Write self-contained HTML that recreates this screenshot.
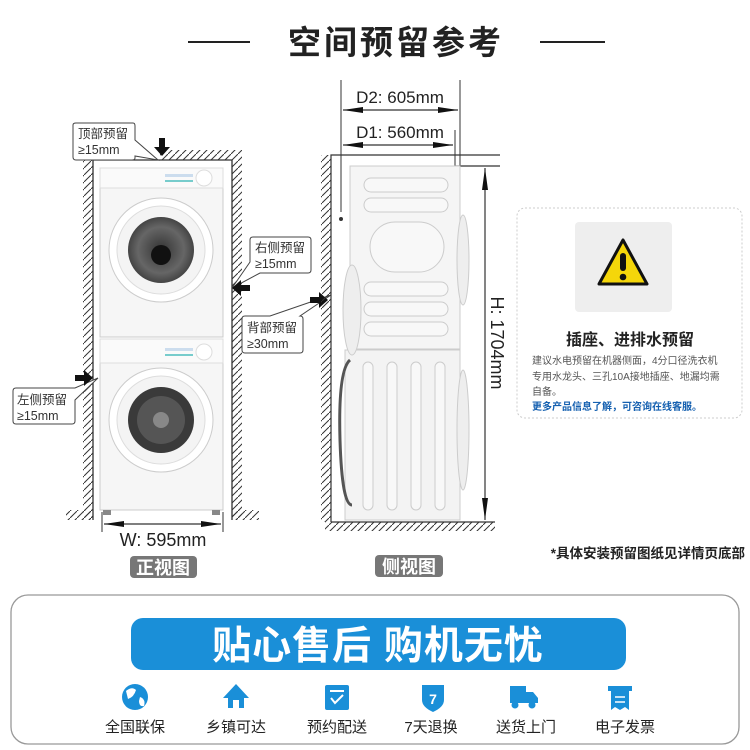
<!DOCTYPE html>
<html><head><meta charset="utf-8"><style>
html,body{margin:0;padding:0;background:#fff;}
svg{display:block;font-family:"Liberation Sans","Noto Sans CJK SC",sans-serif;}
</style></head><body>
<svg width="750" height="750" viewBox="0 0 750 750" xmlns="http://www.w3.org/2000/svg">
<defs>
<pattern id="h" width="7" height="7" patternUnits="userSpaceOnUse">
<path d="M-1,8 L8,-1" stroke="#333" stroke-width="1"/>
</pattern>
<radialGradient id="dr" cx="50%" cy="50%" r="50%"><stop offset="0" stop-color="#333"/><stop offset="0.7" stop-color="#666"/><stop offset="1" stop-color="#444"/></radialGradient>
</defs>

<!-- title -->
<line x1="188" y1="42" x2="250" y2="42" stroke="#222" stroke-width="2"/>
<line x1="540" y1="42" x2="605" y2="42" stroke="#222" stroke-width="2"/>
<text x="396" y="54" text-anchor="middle" font-size="33" font-weight="bold" fill="#222" letter-spacing="3">空间预留参考</text>

<!-- FRONT VIEW walls -->
<rect x="83" y="160" width="10" height="360" fill="url(#h)"/>
<rect x="232" y="160" width="10" height="360" fill="url(#h)"/>
<rect x="160" y="150" width="82" height="10" fill="url(#h)"/>
<rect x="66" y="510" width="27" height="10" fill="url(#h)"/>
<rect x="232" y="510" width="27" height="10" fill="url(#h)"/>
<path d="M93,160 L93,520 M93,160 L232,160 L232,520" stroke="#333" stroke-width="1.3" fill="none"/>

<!-- machines front -->
<rect x="100" y="168" width="123" height="169" fill="#f6f6f6" stroke="#ccc"/>
<rect x="100" y="168" width="123" height="20" fill="#fafafa" stroke="#ddd"/>
<circle cx="204" cy="178" r="8" fill="#fff" stroke="#ddd"/>
<rect x="165" y="174" width="28" height="3" fill="#cde"/>
<rect x="165" y="180" width="28" height="2" fill="#7cc"/>
<circle cx="161" cy="250" r="52" fill="#fff" stroke="#ccc"/>
<circle cx="161" cy="250" r="44" fill="#f4f4f4" stroke="#ddd"/>
<circle cx="161" cy="250" r="33" fill="url(#dr)"/>
<circle cx="161" cy="255" r="10" fill="#111"/>
<rect x="100" y="339" width="123" height="171" fill="#f6f6f6" stroke="#ccc"/>
<rect x="100" y="339" width="123" height="24" fill="#fafafa" stroke="#ddd"/>
<circle cx="204" cy="352" r="8" fill="#fff" stroke="#ddd"/>
<rect x="165" y="348" width="28" height="3" fill="#cde"/>
<rect x="165" y="354" width="28" height="2" fill="#7cc"/>
<circle cx="161" cy="420" r="52" fill="#fff" stroke="#ccc"/>
<circle cx="161" cy="420" r="44" fill="#f4f4f4" stroke="#ddd"/>
<circle cx="161" cy="420" r="33" fill="#3a3a3a"/>
<circle cx="161" cy="420" r="24" fill="#555"/>
<circle cx="161" cy="420" r="8" fill="#888"/>
<rect x="103" y="510" width="8" height="5" fill="#888"/>
<rect x="212" y="510" width="8" height="5" fill="#888"/>

<!-- W dimension -->
<path d="M102,512 L102,532 M223,512 L223,532" stroke="#333"/>
<line x1="104" y1="524" x2="221" y2="524" stroke="#333" stroke-width="1.2"/>
<path d="M104,524 L124,521 L124,527z M221,524 L201,521 L201,527z" fill="#111"/>
<text x="163" y="546" text-anchor="middle" font-size="18" fill="#222">W: 595mm</text>
<rect x="130" y="556" width="67" height="22" rx="4" fill="#777"/>
<text x="163" y="574" text-anchor="middle" font-size="18" font-weight="bold" fill="#fff">正视图</text>

<!-- callouts front -->
<g font-size="12.5" fill="#333">
<path d="M73,125 Q73,123 76,123 L133,123 Q135,123 135,126 L135,140 L158,160 L135,156 L135,158 Q135,160 132,160 L76,160 Q73,160 73,157z" fill="#fff" stroke="#444"/>
<text x="78" y="138">顶部预留</text><text x="78" y="154">≥15mm</text>
<path d="M250,240 Q250,237 253,237 L308,237 Q311,237 311,240 L311,270 Q311,273 308,273 L260,273 L232,288 L250,262z" fill="#fff" stroke="#444"/>
<text x="255" y="252">右侧预留</text><text x="255" y="268">≥15mm</text>
<path d="M242,319 Q242,316 245,316 L270,316 L331,295 L300,316 L300,316 Q303,316 303,319 L303,350 Q303,353 300,353 L245,353 Q242,353 242,350z" fill="#fff" stroke="#444"/>
<text x="247" y="332">背部预留</text><text x="247" y="348">≥30mm</text>
<path d="M13,391 Q13,388 16,388 L75,388 L98,378 L75,400 L75,421 Q75,424 72,424 L16,424 Q13,424 13,421z" fill="#fff" stroke="#444"/>
<text x="17" y="404">左侧预留</text><text x="17" y="420">≥15mm</text>
</g>
<!-- arrows -->
<g fill="#111">
<path d="M159,138 L165,138 L165,147 L170,147 L162,156 L154,147 L159,147z"/>
<path d="M250,285 L241,285 L241,280 L232,288 L241,296 L241,291 L250,291z"/>
<path d="M75,375 L84,375 L84,370 L93,378 L84,386 L84,381 L75,381z"/>
<path d="M310,297 L319,297 L319,292 L328,300 L319,308 L319,303 L310,303z"/>
</g>

<!-- SIDE VIEW -->
<rect x="321" y="155" width="10" height="367" fill="url(#h)"/>
<rect x="325" y="522" width="170" height="9" fill="url(#h)"/>
<path d="M331,522 L331,155 L500,155 M455,166 L500,166 M331,522 L495,522" stroke="#333" stroke-width="1.2" fill="none"/>
<path d="M341,80 L341,212 M460,80 L460,170 M455,130 L455,166" stroke="#333" stroke-width="1"/>
<circle cx="341" cy="219" r="2" fill="#333"/>
<line x1="343" y1="110" x2="458" y2="110" stroke="#333" stroke-width="1.2"/>
<path d="M343,110 L363,107 L363,113z M458,110 L438,107 L438,113z" fill="#111"/>
<line x1="343" y1="145" x2="453" y2="145" stroke="#333" stroke-width="1.2"/>
<path d="M343,145 L363,142 L363,148z M453,145 L433,142 L433,148z" fill="#111"/>
<text x="400" y="103" text-anchor="middle" font-size="17" fill="#222">D2: 605mm</text>
<text x="400" y="138" text-anchor="middle" font-size="17" fill="#222">D1: 560mm</text>
<line x1="485" y1="168" x2="485" y2="520" stroke="#333" stroke-width="1.2"/>
<path d="M485,168 L482,190 L488,190z M485,520 L482,498 L488,498z" fill="#111"/>
<text transform="translate(491,343) rotate(90)" text-anchor="middle" font-size="18" fill="#222">H: 1704mm</text>

<!-- side machine -->
<rect x="350" y="166" width="110" height="183" fill="#f5f5f5" stroke="#ccc"/>
<rect x="345" y="350" width="115" height="170" fill="#f3f3f3" stroke="#ccc"/>
<ellipse cx="352" cy="310" rx="9" ry="45" fill="#eee" stroke="#ccc"/>
<ellipse cx="463" cy="260" rx="6" ry="45" fill="#eee" stroke="#ccc"/>
<ellipse cx="463" cy="430" rx="6" ry="60" fill="#eee" stroke="#ccc"/>
<g fill="#f8f8f8" stroke="#ccc">
<rect x="364" y="178" width="84" height="14" rx="7"/>
<rect x="364" y="198" width="84" height="14" rx="7"/>
<rect x="370" y="222" width="74" height="50" rx="25"/>
<rect x="364" y="282" width="84" height="14" rx="7"/>
<rect x="364" y="302" width="84" height="14" rx="7"/>
<rect x="364" y="322" width="84" height="14" rx="7"/>
<rect x="363" y="362" width="10" height="148" rx="5"/>
<rect x="387" y="362" width="10" height="148" rx="5"/>
<rect x="411" y="362" width="10" height="148" rx="5"/>
<rect x="435" y="362" width="10" height="148" rx="5"/>
</g>
<path d="M350,360 Q338,370 340,440 Q342,505 352,505" stroke="#555" stroke-width="3" fill="none"/>

<rect x="375" y="555" width="68" height="22" rx="4" fill="#777"/>
<text x="409" y="573" text-anchor="middle" font-size="18" font-weight="bold" fill="#fff">侧视图</text>
<text x="745" y="558" text-anchor="end" font-size="13.5" font-weight="bold" fill="#222">*具体安装预留图纸见详情页底部</text>

<!-- right card -->
<rect x="517" y="208" width="225" height="210" rx="8" fill="#fff" stroke="#ccc" stroke-dasharray="2,2"/>
<rect x="575" y="222" width="97" height="90" rx="4" fill="#eee"/>
<path d="M623,240 L647,284 L599,284z" fill="#f5d60a" stroke="#111" stroke-width="3" stroke-linejoin="round"/>
<rect x="620" y="253" width="6" height="18" rx="3" fill="#111"/>
<circle cx="623" cy="277" r="3.3" fill="#111"/>
<text x="630" y="345" text-anchor="middle" font-size="16" font-weight="bold" fill="#222">插座、进排水预留</text>
<g font-size="10" fill="#555">
<text x="532" y="364">建议水电预留在机器侧面，4分口径洗衣机</text>
<text x="532" y="380">专用水龙头、三孔10A接地插座、地漏均需</text>
<text x="532" y="395">自备。</text>
</g>
<text x="532" y="410" font-size="10" font-weight="bold" fill="#1560b0">更多产品信息了解，可咨询在线客服。</text>

<!-- bottom -->
<rect x="11" y="595" width="728" height="149" rx="17" fill="#fff" stroke="#999" stroke-width="1.3"/>
<rect x="131" y="618" width="495" height="52" rx="12" fill="#1a8fd8"/>
<text x="378" y="659" text-anchor="middle" font-size="39" font-weight="bold" fill="#fff" letter-spacing="1">贴心售后 购机无忧</text>
<g fill="#1a8fd8">
<circle cx="135" cy="697" r="13"/>
<path d="M126,691 Q132,686 136,690 Q134,697 128,699z M140,697 Q146,699 144,706 Q139,707 139,701z" fill="#fff"/>
<path d="M236,684 L249,698 L244,698 L244,708 L228,708 L228,698 L223,698z"/>
<rect x="233" y="700" width="6" height="8" fill="#fff"/>
<rect x="325" y="685" width="24" height="25" rx="2"/>
<path d="M330,691 L344,691 M331,698 L335,703 L343,695" stroke="#fff" stroke-width="2" fill="none"/>
<path d="M422,685 L444,685 L444,700 Q444,707 433,712 Q422,707 422,700z"/>
<text x="433" y="704" text-anchor="middle" font-size="14" font-weight="bold" fill="#fff">7</text>
<rect x="510" y="686" width="16" height="17"/>
<path d="M526,692 L533,692 L538,698 L538,703 L526,703z"/>
<circle cx="515" cy="705" r="3.5"/><circle cx="532" cy="705" r="3.5"/>
<rect x="608" y="686" width="24" height="5"/>
<path d="M611,691 L629,691 L629,710 L625,707 L620,710 L615,707 L611,710z"/>
<path d="M615,697 L625,697 M615,702 L625,702" stroke="#fff" stroke-width="1.6"/>
</g>
<g font-size="15" fill="#222" text-anchor="middle">
<text x="135" y="732">全国联保</text>
<text x="236" y="732">乡镇可达</text>
<text x="337" y="732">预约配送</text>
<text x="431" y="732">7天退换</text>
<text x="526" y="732">送货上门</text>
<text x="625" y="732">电子发票</text>
</g>
</svg>
</body></html>
